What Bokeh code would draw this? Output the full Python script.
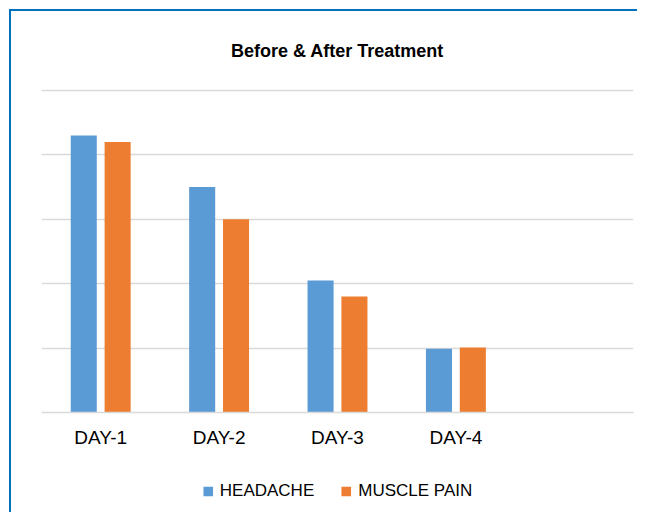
from bokeh.plotting import figure
from bokeh.layouts import column
from bokeh.models import FactorRange, Range1d, FixedTicker, Legend, LegendItem, ColumnDataSource
from bokeh.transform import dodge
from bokeh.embed import file_html
from bokeh.resources import INLINE

days = ["DAY-1", "DAY-2", "DAY-3", "DAY-4"]
slots = days + [" "]
headache = [43, 35, 20.5, 9.9]
muscle_pain = [42, 30, 18, 10.1]
series_names = ["HEADACHE", "MUSCLE PAIN"]
grid_ticks = [0, 10, 20, 30, 40, 50]

BLUE = "#5B9BD5"
ORANGE = "#ED7D31"
GRID = "#D9D9D9"
FONT = "Liberation Sans"

src = ColumnDataSource(dict(day=days, headache=headache, muscle=muscle_pain))

p = figure(frame_width=592, frame_height=324, x_range=FactorRange(*slots, range_padding=0),
           y_range=Range1d(0, 50.3), output_backend="svg", toolbar_location=None,
           min_border_left=30, min_border_right=4, min_border_top=77, min_border_bottom=40)

p.title.text = "Before & After Treatment"
p.title.align = "center"
p.title.text_font = FONT
p.title.text_font_size = "18px"
p.title.text_font_style = "bold"
p.title.text_color = "#000000"
try:
    p.title.standoff = 55
except AttributeError:
    pass

p.vbar(x=dodge("day", -0.143, range=p.x_range), top="headache", width=0.22,
       source=src, fill_color=BLUE, line_color=None)
p.vbar(x=dodge("day", 0.143, range=p.x_range), top="muscle", width=0.22,
       source=src, fill_color=ORANGE, line_color=None)

p.yaxis.visible = False
p.ygrid.ticker = FixedTicker(ticks=grid_ticks)
p.ygrid.grid_line_color = GRID
p.ygrid.grid_line_width = 1.5
p.xgrid.grid_line_color = None
p.outline_line_color = None

p.xaxis.axis_line_color = GRID
p.xaxis.axis_line_width = 1.5
p.xaxis.major_tick_line_color = None
p.xaxis.minor_tick_line_color = None
p.xaxis.major_label_text_font = FONT
p.xaxis.major_label_text_font_size = "19px"
p.xaxis.major_label_text_color = "#000000"
p.xaxis.major_label_standoff = 8

# legend strip below the chart
lp = figure(width=626, height=60, x_range=FactorRange(*slots, range_padding=0),
            y_range=Range1d(1000, 1001), output_backend="svg", toolbar_location=None,
            x_axis_location=None, y_axis_location=None,
            min_border_left=0, min_border_right=0, min_border_top=18, min_border_bottom=0)
lp.grid.grid_line_color = None
lp.outline_line_color = None
l1 = lp.vbar(x=dodge("day", -0.143, range=lp.x_range), top="headache", width=0.22,
             source=src, fill_color=BLUE, line_color=None)
l2 = lp.vbar(x=dodge("day", 0.143, range=lp.x_range), top="muscle", width=0.22,
             source=src, fill_color=ORANGE, line_color=None)
legend = Legend(items=[LegendItem(label=series_names[0], renderers=[l1]),
                       LegendItem(label=series_names[1], renderers=[l2])],
                orientation="horizontal", location="center",
                glyph_width=12, glyph_height=12, label_standoff=6, spacing=26,
                label_text_font=FONT, label_text_font_size="17px",
                label_text_color="#000000", border_line_color=None,
                background_fill_alpha=0, padding=4, margin=0)
lp.add_layout(legend)

layout = column(p, lp, spacing=0)
layout.styles = {"border-left": "2px solid #0070C0", "border-top": "2px solid #0070C0",
                 "margin-left": "9px", "margin-top": "9px"}

open("out.html", "w").write(file_html(layout, INLINE))
